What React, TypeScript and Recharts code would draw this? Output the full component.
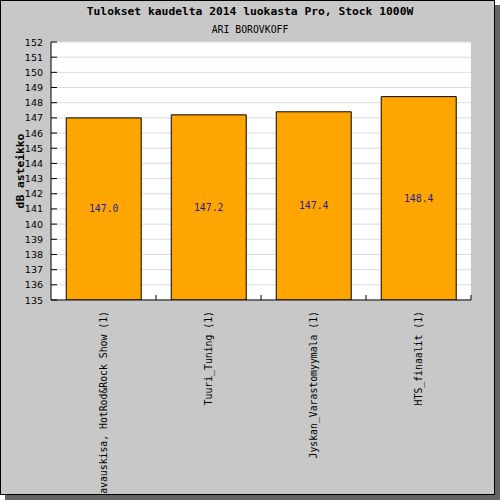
import React from 'react';
import { BarChart, Bar, XAxis, YAxis, CartesianGrid, LabelList } from 'recharts';

const categories = [
  'Kauden avauskisa, HotRod&Rock Show (1)',
  'Tuuri_Tuning (1)',
  'Jyskan_Varastomyymala (1)',
  'HTS_finaalit (1)',
];
const values = [147.0, 147.2, 147.4, 148.4];
const yTicks = [135, 136, 137, 138, 139, 140, 141, 142, 143, 144, 145, 146, 147, 148, 149, 150, 151, 152];

const title = 'Tulokset kaudelta 2014 luokasta Pro, Stock 1000W';
const subtitle = 'ARI BOROVKOFF';
const yLabel = 'dB asteikko';

const data = categories.map((c, i) => ({ name: c, value: values[i] }));

const YTick = (props: any) => {
  const { x, y, payload } = props;
  return (
    <g>
      <line x1={x + 8} y1={y} x2={x + 14} y2={y} stroke="#000" strokeWidth={1} />
      <text x={x} y={y} textAnchor="end" dominantBaseline="central" fontFamily="DejaVu Sans" fontSize={9.5} fill="#000">
        {payload.value}
      </text>
    </g>
  );
};

const XTick = (props: any) => {
  const { x, y, payload } = props;
  const off = payload && typeof payload.offset === 'number' && payload.offset > 0 ? payload.offset : 52.5;
  const axisY = y - 2;
  return (
    <g>
      <line x1={x + off} y1={axisY} x2={x + off} y2={axisY - 5} stroke="#000" strokeWidth={1} />
      <text
        x={0}
        y={0}
        transform={`translate(${x},${axisY + 11}) rotate(-90)`}
        textAnchor="end"
        dominantBaseline="central"
        fontFamily="DejaVu Sans Mono"
        fontSize={9.8}
        fill="#000"
      >
        {payload.value}
      </text>
    </g>
  );
};

export default function App() {
  return (
    <div style={{ position: 'absolute', left: 0, top: 0, width: 500, height: 500 }}>
      <div
        style={{
          position: 'absolute',
          left: 0,
          top: 0,
          width: 495,
          height: 495,
          boxSizing: 'border-box',
          border: '1px solid #000',
          background: '#c8c8c8',
          boxShadow: '5px 5px 0 0 #646464',
          overflow: 'hidden',
        }}
      >
        <div style={{ position: 'absolute', left: -1, top: -1 }}>
          <BarChart
            width={500}
            height={500}
            data={data}
            margin={{ top: 42, right: 29, bottom: 0, left: 0 }}
            barCategoryGap="14.5%"
          >
            <text x={250} y={11} textAnchor="middle" dominantBaseline="central" fontFamily="DejaVu Sans Mono" fontWeight="bold" fontSize={11.3} fill="#000">
              {title}
            </text>
            <text x={250} y={29} textAnchor="middle" dominantBaseline="central" fontFamily="DejaVu Sans Mono" fontSize={9.8} fill="#000">
              {subtitle}
            </text>
            <text
              x={0}
              y={0}
              transform="translate(20,171) rotate(-90)"
              textAnchor="middle"
              dominantBaseline="central"
              fontFamily="DejaVu Sans Mono"
              fontWeight="bold"
              fontSize={11.3}
              fill="#000"
            >
              {yLabel}
            </text>
            <CartesianGrid vertical={false} stroke="#dcdcdc" fill="#ffffff" />
            <XAxis
              dataKey="name"
              height={200}
              interval={0}
              tickLine={false}
              tickSize={0}
              tickMargin={2}
              axisLine={{ stroke: '#000' }}
              tick={<XTick />}
            />
            <YAxis
              width={51}
              domain={[135, 152]}
              ticks={yTicks}
              interval={0}
              allowDataOverflow
              tickLine={false}
              tickSize={0}
              tickMargin={8}
              axisLine={{ stroke: '#000' }}
              tick={<YTick />}
            />
            <Bar dataKey="value" fill="#ffa500" stroke="#000" strokeWidth={1} isAnimationActive={false}>
              <LabelList
                dataKey="value"
                position="center"
                formatter={(v: any) => Number(v).toFixed(1)}
                fill="#1e1e9a"
                fontFamily="DejaVu Sans Mono"
                fontSize={9.8}
              />
            </Bar>
          </BarChart>
        </div>
      </div>
    </div>
  );
}
